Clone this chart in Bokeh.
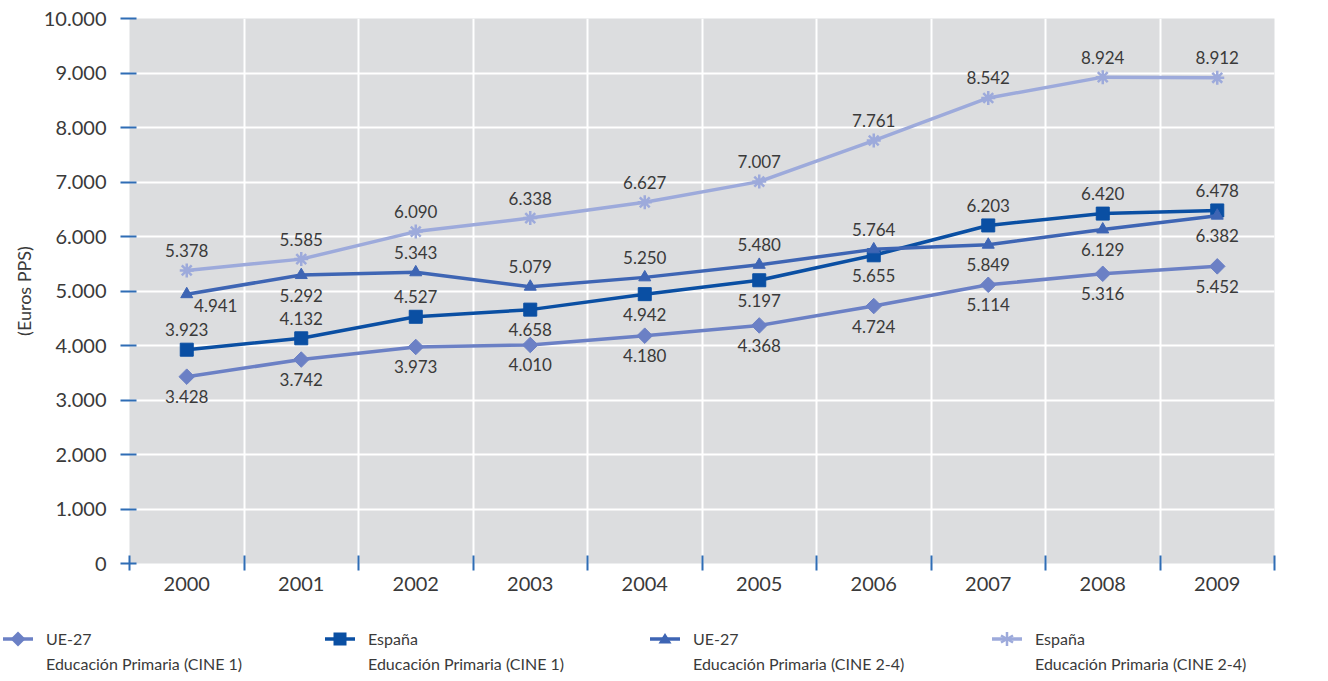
import math
from bokeh.plotting import figure
from bokeh.models import Range1d, FixedTicker, ColumnDataSource, Div
from bokeh.layouts import column
from bokeh.core.properties import value
from bokeh.embed import file_html
from bokeh.resources import INLINE

# ---------------- data ----------------
years = [2000, 2001, 2002, 2003, 2004, 2005, 2006, 2007, 2008, 2009]
ue27_cine1 = [3428, 3742, 3973, 4010, 4180, 4368, 4724, 5114, 5316, 5452]
espana_cine1 = [3923, 4132, 4527, 4658, 4942, 5197, 5655, 6203, 6420, 6478]
ue27_cine24 = [4941, 5292, 5343, 5079, 5250, 5480, 5764, 5849, 6129, 6382]
espana_cine24 = [5378, 5585, 6090, 6338, 6627, 7007, 7761, 8542, 8924, 8912]
y_ticks = [0, 1000, 2000, 3000, 4000, 5000, 6000, 7000, 8000, 9000, 10000]
legend_line1 = ["UE-27", "España", "UE-27", "España"]
legend_line2 = ["Educación Primaria (CINE 1)", "Educación Primaria (CINE 1)",
                "Educación Primaria (CINE 2-4)", "Educación Primaria (CINE 2-4)"]

# ---------------- styling ----------------
FONT = "Lato"
TXT = "#3a3a3a"
TICK = "#2f6db5"
colors = ["#6b80c5", "#0a4fa3", "#3e65b4", "#9daadb"]
markers = ["square", "square", "triangle", "asterisk"]
angles = [math.pi / 4, 0, 0, 0]
msizes = [11, 13, 12, 14]
# label placement: a = above, b = below, r = below-right
places = [
    ["b"] * 10,
    ["a", "a", "a", "b", "b", "b", "b", "a", "a", "a"],
    ["r", "b", "a", "a", "a", "a", "a", "b", "b", "b"],
    ["a"] * 10,
]
legend_x = [3, 325, 650, 992]

def fmt(v):
    return f"{v:,}".replace(",", ".")

p = figure(frame_width=1145, frame_height=545, output_backend="svg", toolbar_location=None,
           x_range=Range1d(1999.5, 2009.5), y_range=Range1d(0, 10000),
           min_border_left=129, min_border_top=18, min_border_right=54,
           min_border_bottom=45)
p.outline_line_color = None
p.background_fill_color = "#dcdddf"
p.border_fill_color = "white"

boundaries = [y - 0.5 for y in years] + [years[-1] + 0.5]
p.xaxis.ticker = FixedTicker(ticks=years, minor_ticks=boundaries)
p.xaxis.major_tick_out = 0
p.xaxis.major_tick_in = 0
p.xaxis.minor_tick_out = 7
p.xaxis.minor_tick_in = 8
p.xaxis.minor_tick_line_color = TICK
p.xaxis.minor_tick_line_width = 2
p.xaxis.axis_line_color = None
p.xaxis.major_label_overrides = {y: str(y) for y in years}
p.xaxis.major_label_standoff = 6

p.yaxis.ticker = FixedTicker(ticks=y_ticks)
p.yaxis.major_label_overrides = {t: fmt(t) for t in y_ticks}
p.yaxis.major_tick_out = 9
p.yaxis.major_tick_in = 7
p.yaxis.major_tick_line_color = TICK
p.yaxis.major_tick_line_width = 2
p.yaxis.minor_tick_line_color = None
p.yaxis.axis_line_color = None
p.yaxis.major_label_standoff = 14
p.yaxis.axis_label = "(Euros PPS)"
p.yaxis.axis_label_standoff = 6
p.yaxis.axis_label_text_font_style = "normal"
p.yaxis.axis_label_text_font_size = "18px"
p.yaxis.axis_label_text_color = TXT
p.yaxis.axis_label_text_font = FONT

for ax in (p.xaxis, p.yaxis):
    ax.major_label_text_font = FONT
    ax.major_label_text_font_size = "20px"
    ax.major_label_text_color = TXT

p.xgrid.ticker = FixedTicker(ticks=boundaries)
p.xgrid.grid_line_color = "white"
p.xgrid.grid_line_width = 2
p.ygrid.grid_line_color = "white"
p.ygrid.grid_line_width = 2

all_series = [ue27_cine1, espana_cine1, ue27_cine24, espana_cine24]
for vals, col, mk, ms, pl, ang in zip(all_series, colors, markers, msizes, places, angles):
    p.line(years, vals, line_color=col, line_width=3.5)
    if mk == "asterisk":
        p.scatter(years, vals, marker=mk, size=ms, line_color=col, line_width=2.5)
    else:
        p.scatter(years, vals, marker=mk, size=ms, angle=ang, fill_color=col, line_color=col)
    xo = [29 if s == "r" else 0 for s in pl]
    yo = [-20 if s == "a" else (11 if s == "r" else 20) for s in pl]
    src = ColumnDataSource(dict(x=years, y=vals, t=[fmt(v) for v in vals], xo=xo, yo=yo))
    p.text(x="x", y="y", text="t", source=src, x_offset="xo", y_offset="yo",
           text_align="center", text_baseline="middle",
           text_font=value(FONT), text_font_size="17px", text_color=TXT)

# ---------------- legend (HTML) ----------------
def marker_svg(kind, col):
    if kind == 0:
        shape = f'<polygon points="15,2.5 22.5,10 15,17.5 7.5,10" fill="{col}"/>'
    elif kind == 1:
        shape = f'<rect x="8.5" y="3.5" width="13" height="13" fill="{col}"/>'
    elif kind == 2:
        shape = f'<polygon points="15,4 21.5,14.5 8.5,14.5" fill="{col}"/>'
    else:
        shape = (f'<g stroke="{col}" stroke-width="2.5">'
                 f'<line x1="15" y1="3" x2="15" y2="17"/>'
                 f'<line x1="9" y1="6.5" x2="21" y2="13.5"/>'
                 f'<line x1="9" y1="13.5" x2="21" y2="6.5"/></g>')
    return (f'<svg width="30" height="20" style="position:absolute;left:0;top:0">'
            f'<line x1="0" y1="10" x2="30" y2="10" stroke="{col}" stroke-width="3.5"/>'
            f'{shape}</svg>')

parts = []
for i, x0 in enumerate(legend_x):
    parts.append(
        f'<div style="position:absolute;left:{x0}px;top:21px;width:320px;height:45px">'
        f'{marker_svg(i, colors[i])}'
        f'<div style="position:absolute;left:43px;top:0;line-height:20px;white-space:nowrap">{legend_line1[i]}</div>'
        f'<div style="position:absolute;left:43px;top:25px;line-height:20px;white-space:nowrap">{legend_line2[i]}</div>'
        f'</div>')
html = (f'<div style="position:relative;width:1328px;height:70px;font-family:{FONT};'
        f'font-size:16px;color:{TXT}">' + "".join(parts) + '</div>')
legend_div = Div(text=html, width=1328, height=70, margin=(0, 0, 0, 0))

layout = column(p, legend_div, spacing=0)
open("out.html", "w").write(file_html(layout, INLINE))
